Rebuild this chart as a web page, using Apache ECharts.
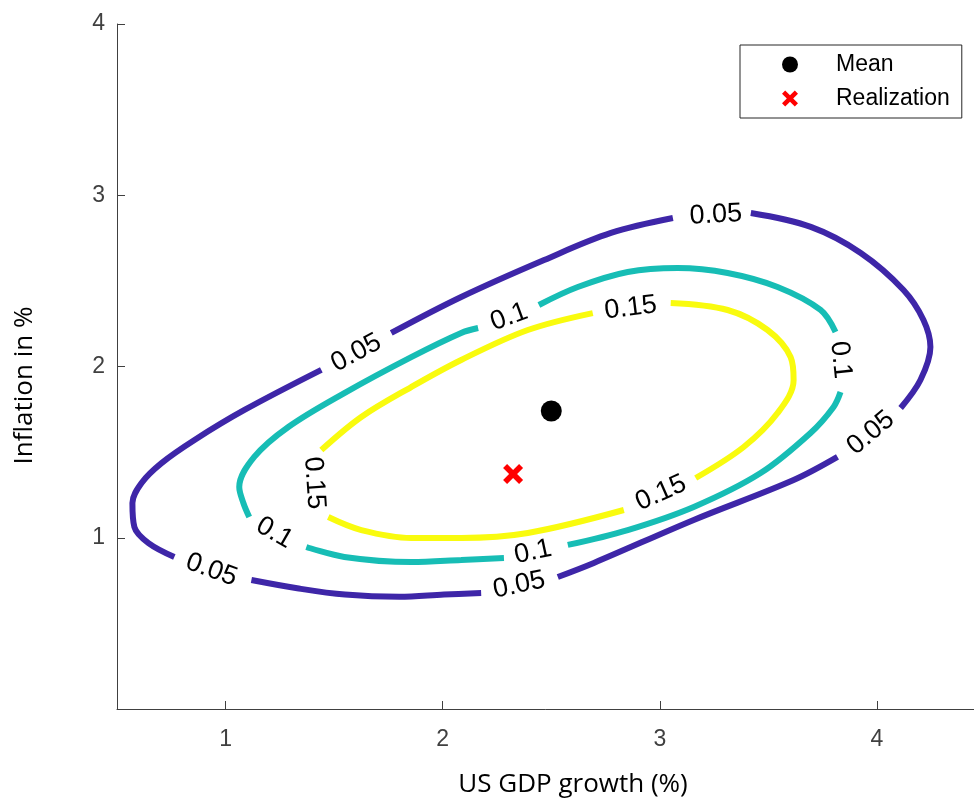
<!DOCTYPE html>
<html>
<head>
<meta charset="utf-8">
<script src="https://cdn.jsdelivr.net/npm/echarts@6/dist/echarts.min.js"></script>
<style>
html,body{margin:0;padding:0;background:#fff;}
#chart{width:974px;height:803px;}
</style>
</head>
<body>
<div id="chart"></div>
<script>
// ---- Data ----
const xTicks = [1, 2, 3, 4];
const yTicks = [1, 2, 3, 4];

const meanPoint = [2.5, 1.74];
const realizationPoint = [2.324, 1.372];

// Contour 0.05 (outer), segments between label gaps
const c005_seg1 = [[3.419,2.896],[3.695,2.815],[3.925,2.663],[4.122,2.447],[4.214,2.272],[4.246,2.114],[4.200,1.921],[4.109,1.758]];
const c005_seg2 = [[3.818,1.472],[3.616,1.337],[3.156,1.104],[2.696,0.853],[2.530,0.771]];
const c005_seg3 = [[2.177,0.677],[2.006,0.668],[1.800,0.655],[1.550,0.668],[1.330,0.705],[1.119,0.753]];
const c005_seg4 = [[0.764,0.888],[0.645,0.969],[0.580,1.063],[0.571,1.203],[0.613,1.320],[0.705,1.436],[0.857,1.571],[1.087,1.746],[1.441,1.980]];
const c005_seg5 = [[1.763,2.196],[2.085,2.406],[2.467,2.622],[2.775,2.780],[3.060,2.867]];

// Contour 0.1 (middle)
const c010_seg1 = [[2.443,2.359],[2.622,2.464],[2.852,2.552],[3.082,2.575],[3.312,2.546],[3.542,2.464],[3.740,2.330],[3.809,2.201]];
const c010_seg2 = [[3.832,1.851],[3.800,1.764],[3.694,1.612],[3.464,1.378],[3.156,1.180],[2.852,1.045],[2.576,0.958]];
const c010_seg3 = [[2.282,0.882],[2.085,0.870],[1.855,0.858],[1.547,0.888],[1.372,0.946]];
const c010_seg4 = [[1.109,1.121],[1.082,1.203],[1.063,1.296],[1.132,1.472],[1.289,1.647],[1.547,1.845],[1.855,2.055],[2.085,2.196],[2.163,2.225]];

// Contour 0.15 (inner)
const c015_seg1 = [[3.050,2.371],[3.312,2.330],[3.496,2.213],[3.602,2.055],[3.616,1.921],[3.542,1.728],[3.386,1.530],[3.165,1.349]];
const c015_seg2 = [[2.834,1.162],[2.392,1.028],[2.085,0.999],[1.855,0.999],[1.625,1.045],[1.473,1.121]];
const c015_seg3 = [[1.441,1.512],[1.625,1.705],[1.855,1.880],[2.085,2.038],[2.392,2.213],[2.691,2.312]];

// Contour labels
const labelText  = ['0.05','0.05','0.05','0.05','0.05','0.1','0.1','0.1','0.1','0.15','0.15','0.15'];
const labelX     = [3.258, 1.602, 0.935, 2.352, 3.972, 2.306, 3.832, 2.416, 1.225, 2.866, 3.005, 1.408];
const labelY     = [2.885, 2.079, 0.812, 0.724, 1.612, 2.289, 2.038, 0.917, 1.028, 2.342, 1.261, 1.320];
const labelAngle = [3, 28, -20, 12, 40, 20, -84, 12, -30, 7, 24, -86];

// ---- Chart ----
const colors = {c005:'#3E26A8', c010:'#17BDB5', c015:'#F9FB0E'};
const chart = echarts.init(document.getElementById('chart'), null, {renderer:'canvas'});

function lineSeries(data, color){
  return {
    type:'line', data:data, showSymbol:false, symbol:'none', smooth:0.35,
    lineStyle:{color:color, width:6, cap:'butt', opacity:1},
    silent:true, z:2, animation:false
  };
}

const series = [];
[c005_seg1,c005_seg2,c005_seg3,c005_seg4,c005_seg5].forEach(s=>series.push(lineSeries(s, colors.c005)));
[c010_seg1,c010_seg2,c010_seg3,c010_seg4].forEach(s=>series.push(lineSeries(s, colors.c010)));
[c015_seg1,c015_seg2,c015_seg3].forEach(s=>series.push(lineSeries(s, colors.c015)));

series.push({
  type:'scatter', name:'labels', symbolSize:0, silent:true, z:3, animation:false,
  itemStyle:{opacity:1},
  data: labelText.map((t,i)=>({name:t, value:[labelX[i], labelY[i]], label:{rotate:labelAngle[i]}})),
  label:{show:true, position:'inside', formatter:p=>p.name, color:'#000', opacity:1,
         fontFamily:'Liberation Sans, Arial, sans-serif', fontSize:27}
});

const xPath = 'path://M2,0 L5,3 L8,0 L10,2 L7,5 L10,8 L8,10 L5,7 L2,10 L0,8 L3,5 L0,2 Z';

series.push({
  type:'scatter', name:'Mean', data:[meanPoint], symbol:'circle', symbolSize:21,
  itemStyle:{color:'#000', opacity:1}, z:5, animation:false
});
series.push({
  type:'scatter', name:'Realization', data:[realizationPoint], symbol:xPath, symbolSize:20,
  itemStyle:{color:'#FF0000', opacity:1}, z:5, animation:false
});

const axisColor = '#404040';
chart.setOption({
  animation:false,
  backgroundColor:'#fff',
  grid:{left:117, top:24, right:-55, bottom:94, outerBoundsMode:'none', containLabel:false},
  legend:{
    data:['Mean','Realization'], orient:'vertical', left:740, top:45,
    padding:[8,12,8,42], itemGap:11, itemWidth:16, itemHeight:16,
    borderColor:'#262626', borderWidth:1, backgroundColor:'#fff',
    itemStyle:{opacity:1},
    textStyle:{fontFamily:'Liberation Sans, Arial, sans-serif', fontSize:23, color:'#000', lineHeight:23, padding:[0,0,0,33]},
    selectedMode:false
  },
  xAxis:{
    type:'value', min:0.5, max:4.7,
    name:'US GDP growth (%)', nameLocation:'middle', nameGap:63,
    nameTextStyle:{fontFamily:'Open Sans, sans-serif', fontSize:26, color:'#000'},
    axisLine:{show:true, lineStyle:{color:axisColor, width:1}},
    axisTick:{show:true, inside:true, length:8, customValues:xTicks, lineStyle:{color:axisColor}},
    axisLabel:{customValues:xTicks, margin:19, fontFamily:'Liberation Sans, Arial, sans-serif', fontSize:23, color:axisColor},
    splitLine:{show:false}
  },
  yAxis:{
    type:'value', min:0, max:4,
    name:'Inflation in %', nameLocation:'middle', nameGap:79,
    nameTextStyle:{fontFamily:'Open Sans, sans-serif', fontSize:26, color:'#000', padding:[0,38,0,0]},
    axisLine:{show:true, lineStyle:{color:axisColor, width:1}},
    axisTick:{show:true, inside:true, length:8, customValues:yTicks, lineStyle:{color:axisColor}},
    axisLabel:{customValues:yTicks, margin:12, fontFamily:'Liberation Sans, Arial, sans-serif', fontSize:23, color:axisColor},
    splitLine:{show:false}
  },
  series:series
});
</script>
</body>
</html>
